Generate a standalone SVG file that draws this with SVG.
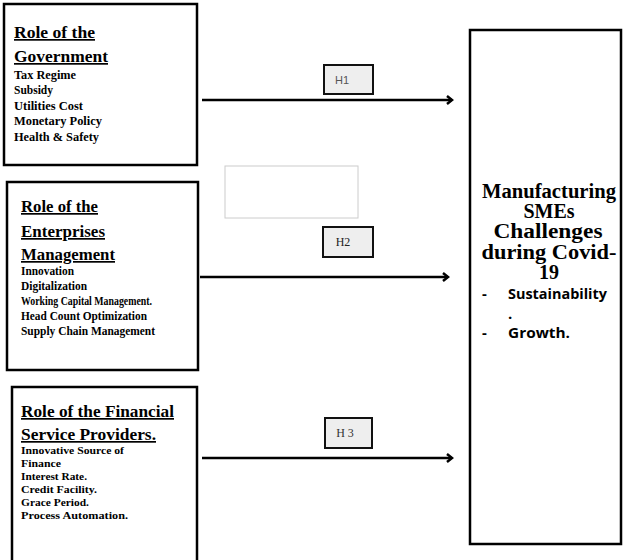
<svg xmlns="http://www.w3.org/2000/svg" width="623" height="560" viewBox="0 0 623 560">
<style>
.box{fill:#fff;stroke:#000;stroke-width:2.5}
.t{font-family:"Liberation Serif","Times New Roman",serif;font-weight:bold;fill:#000}
.ttl{font-size:17px;text-decoration:underline}
.it{font-size:12px}
.it2{font-size:11px}
.c{font-size:20px;text-anchor:middle}
.s{font-family:"Open Sans","Liberation Sans",sans-serif;font-weight:bold;font-size:15px;fill:#000}
.hb{fill:#eeeeee;stroke:#111;stroke-width:2}
.conn{stroke:#000;stroke-width:2.5;fill:none}
</style>
<defs>
<marker id="ah" markerWidth="10" markerHeight="10" refX="6" refY="5" orient="auto" markerUnits="userSpaceOnUse">
<path d="M1,1 L6,5 L1,9" fill="none" stroke="#000" stroke-width="2.5"/>
</marker>
</defs>
<rect width="623" height="560" fill="#fff"/>
<g id="gov">
<rect class="box" x="4" y="4" width="193" height="161"/>
<text class="t ttl" x="14" y="38" textLength="81" lengthAdjust="spacingAndGlyphs">Role of the</text>
<text class="t ttl" x="14" y="62" textLength="94" lengthAdjust="spacingAndGlyphs">Government</text>
<text class="t it" x="14" y="79" textLength="62" lengthAdjust="spacingAndGlyphs">Tax Regime</text>
<text class="t it" x="14" y="94" textLength="39" lengthAdjust="spacingAndGlyphs">Subsidy</text>
<text class="t it" x="14" y="110" textLength="69" lengthAdjust="spacingAndGlyphs">Utilities Cost</text>
<text class="t it" x="14" y="125" textLength="88" lengthAdjust="spacingAndGlyphs">Monetary Policy</text>
<text class="t it" x="14" y="141" textLength="85" lengthAdjust="spacingAndGlyphs">Health &amp; Safety</text>
</g>
<g id="ent">
<rect class="box" x="7" y="182" width="191" height="188"/>
<text class="t ttl" x="21" y="212" textLength="77" lengthAdjust="spacingAndGlyphs">Role of the</text>
<text class="t ttl" x="21" y="237" textLength="84" lengthAdjust="spacingAndGlyphs">Enterprises</text>
<text class="t ttl" x="21" y="260" textLength="94" lengthAdjust="spacingAndGlyphs">Management</text>
<text class="t it" x="21" y="275" textLength="53" lengthAdjust="spacingAndGlyphs">Innovation</text>
<text class="t it" x="21" y="290" textLength="66" lengthAdjust="spacingAndGlyphs">Digitalization</text>
<text class="t it" x="21" y="305" textLength="131" lengthAdjust="spacingAndGlyphs">Working Capital Management.</text>
<text class="t it" x="21" y="320" textLength="126" lengthAdjust="spacingAndGlyphs">Head Count Optimization</text>
<text class="t it" x="21" y="335" textLength="134" lengthAdjust="spacingAndGlyphs">Supply Chain Management</text>
</g>
<g id="fin">
<rect class="box" x="12" y="387" width="185" height="180"/>
<text class="t ttl" x="21" y="417" textLength="153" lengthAdjust="spacingAndGlyphs">Role of the Financial</text>
<text class="t ttl" x="21" y="440" textLength="135" lengthAdjust="spacingAndGlyphs">Service Providers.</text>
<text class="t it2" x="21" y="454" textLength="103" lengthAdjust="spacingAndGlyphs">Innovative Source of</text>
<text class="t it2" x="21" y="467" textLength="40" lengthAdjust="spacingAndGlyphs">Finance</text>
<text class="t it2" x="21" y="480" textLength="66" lengthAdjust="spacingAndGlyphs">Interest Rate.</text>
<text class="t it2" x="21" y="493" textLength="76" lengthAdjust="spacingAndGlyphs">Credit Facility.</text>
<text class="t it2" x="21" y="506" textLength="68" lengthAdjust="spacingAndGlyphs">Grace Period.</text>
<text class="t it2" x="21" y="519" textLength="107" lengthAdjust="spacingAndGlyphs">Process Automation.</text>
</g>
<g id="sme">
<rect class="box" x="470" y="30" width="151" height="514"/>
<text class="t c" x="549" y="198" textLength="134" lengthAdjust="spacingAndGlyphs">Manufacturing</text>
<text class="t c" x="549" y="218">SMEs</text>
<text class="t c" x="548" y="238" textLength="109" lengthAdjust="spacingAndGlyphs">Challenges</text>
<text class="t c" x="549" y="259" textLength="135" lengthAdjust="spacingAndGlyphs">during Covid-</text>
<text class="t c" x="549" y="279">19</text>
<text class="s" x="482" y="299">-</text>
<text class="s" x="508" y="299" textLength="99" lengthAdjust="spacingAndGlyphs">Sustainability</text>
<text class="s" x="508" y="319">.</text>
<text class="s" x="482" y="338">-</text>
<text class="s" x="508" y="338" textLength="62" lengthAdjust="spacingAndGlyphs">Growth.</text>
</g>
<g id="connectors">
<line class="conn" x1="202" y1="100" x2="452" y2="100" marker-end="url(#ah)"/>
<line class="conn" x1="200" y1="277" x2="448" y2="277" marker-end="url(#ah)"/>
<line class="conn" x1="202" y1="458" x2="452" y2="458" marker-end="url(#ah)"/>
</g>
<g id="h1">
<rect class="hb" x="324" y="65" width="49" height="29"/>
<text x="342" y="84" font-family="Liberation Sans, Arial, sans-serif" font-size="11" fill="#555" text-anchor="middle">H1</text>
</g>
<g id="blank">
<rect x="225" y="166" width="133" height="52" fill="#fff" stroke="#cccccc" stroke-width="1"/>
</g>
<g id="h2">
<rect class="hb" x="323" y="227" width="50" height="30"/>
<text x="343" y="246" font-family="Liberation Serif, Times New Roman, serif" font-size="12" fill="#222" text-anchor="middle">H2</text>
</g>
<g id="h3">
<rect class="hb" x="325" y="418" width="47" height="30"/>
<text x="345" y="437" font-family="Liberation Serif, Times New Roman, serif" font-size="12" fill="#333" text-anchor="middle">H 3</text>
</g>
</svg>
